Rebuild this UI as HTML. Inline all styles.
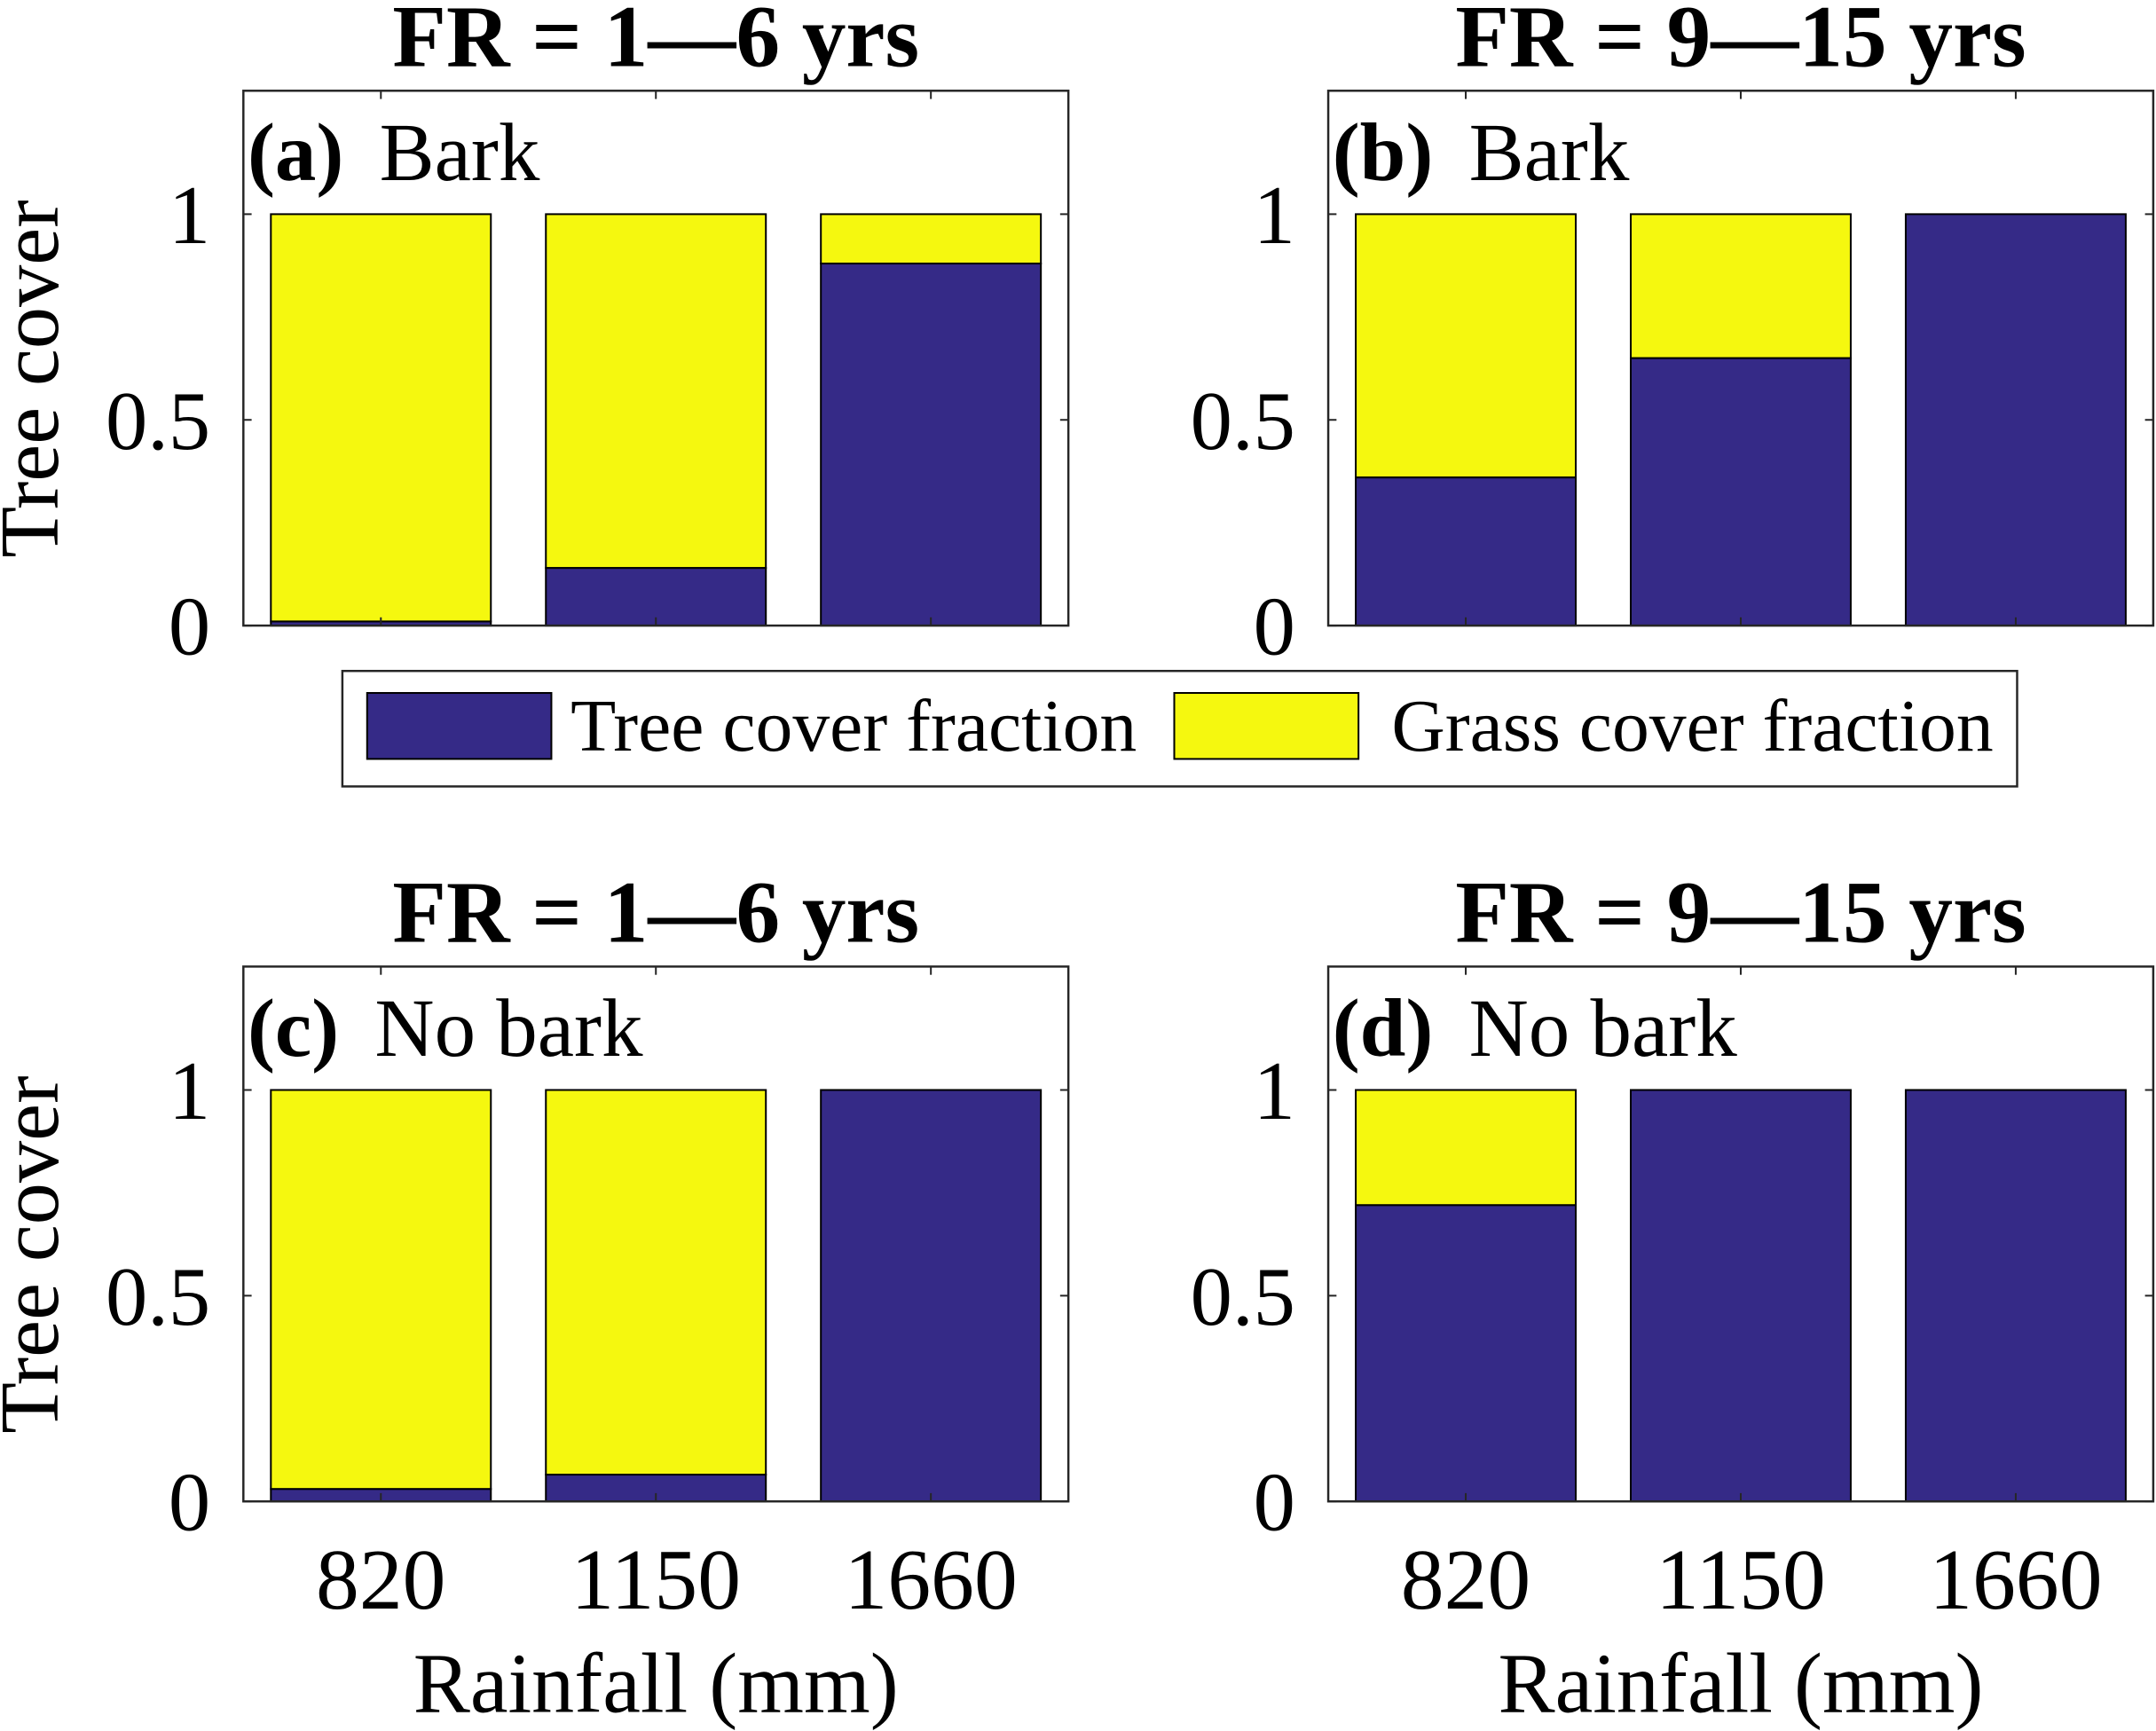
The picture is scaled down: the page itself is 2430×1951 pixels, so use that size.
<!DOCTYPE html>
<html><head><meta charset="utf-8"><style>html,body{margin:0;padding:0;background:#fff}svg{display:block}text{font-family:"Liberation Serif",serif;fill:#000}</style></head>
<body>
<svg id="fig" width="2430" height="1951" viewBox="0 0 1568 1259" preserveAspectRatio="none" xmlns="http://www.w3.org/2000/svg"></svg>
<script>
const categories = ["820","1150","1660"];
const treeA = [0.01, 0.14, 0.88];
const treeB = [0.36, 0.65, 1.0];
const treeC = [0.03, 0.065, 1.0];
const treeD = [0.72, 1.0, 1.0];
const yTicks = [0, 0.5, 1];
const yTickLabels = ["0","0.5","1"];
const titles = ["FR = 1\u20146 yrs","FR = 9\u201415 yrs","FR = 1\u20146 yrs","FR = 9\u201415 yrs"];
const panelTags = ["(a)","(b)","(c)","(d)"];
const panelDesc = ["Bark","Bark","No bark","No bark"];

const NS="http://www.w3.org/2000/svg";
const svg=document.getElementById('fig');
function mk(tag,attrs,parent){const e=document.createElementNS(NS,tag);for(const k in attrs)e.setAttribute(k,attrs[k]);(parent||svg).appendChild(e);return e;}
const NAVY="#352a87", YEL="#f5f80f";
const panels=[{x0:177,y0:66,d:treeA,key:"a"},{x0:966,y0:66,d:treeB,key:"b"},{x0:177,y0:703,d:treeC,key:"c"},{x0:966,y0:703,d:treeD,key:"d"}];
const W=600,H=389,YMAX=1.3;
panels.forEach((p,i)=>{
  const g=mk('g',{});
  
  
  const xs=v=>p.x0+(v+0.5)/3*W;
  const ys=v=>p.y0+H-v/YMAX*H;
  const bw=0.8/3*W;
  p.d.forEach((v,j)=>{
    const cx=xs(j);
    const gr=mk('rect',{x:cx-bw/2,y:ys(1),width:bw,height:ys(v)-ys(1),fill:YEL,stroke:"#000","stroke-width":1.3},g);
    
    
    const tr=mk('rect',{x:cx-bw/2,y:ys(v),width:bw,height:ys(0)-ys(v),fill:NAVY,stroke:"#000","stroke-width":1.3},g);
    
    
    mk('line',{x1:cx,x2:cx,y1:ys(0),y2:ys(0)-6,stroke:"#262626","stroke-width":1.3},g);
    mk('line',{x1:cx,x2:cx,y1:p.y0,y2:p.y0+6,stroke:"#262626","stroke-width":1.3},g);
    if(i>=2){const t=mk('text',{x:cx,y:1170,"font-size":63,"text-anchor":"middle"},g);t.textContent=categories[j];
      }
  });
  yTicks.forEach((v,k)=>{
    mk('line',{x1:p.x0,x2:p.x0+6,y1:ys(v),y2:ys(v),stroke:"#262626","stroke-width":1.3},g);
    mk('line',{x1:p.x0+W,x2:p.x0+W-6,y1:ys(v),y2:ys(v),stroke:"#262626","stroke-width":1.3},g);
    const t=mk('text',{x:p.x0-24,y:ys(v)+21,"font-size":61,"text-anchor":"end"},g);t.textContent=yTickLabels[k];
    
  });
  const box=mk('rect',{x:p.x0,y:p.y0,width:W,height:H,fill:"none",stroke:"#262626","stroke-width":1.6},g);
  
  const tt=mk('text',{x:p.x0+W/2,y:p.y0-18,"font-size":64,"font-weight":"bold","text-anchor":"middle"},g);tt.textContent=titles[i];
  
  const lb=mk('text',{x:p.x0+3,y:p.y0+65,"font-size":60},g);
  const s1=mk('tspan',{"font-weight":"bold"},lb);s1.textContent=panelTags[i];
  const s2=mk('tspan',{dx:26},lb);s2.textContent=panelDesc[i];
  
  if(p.x0<500){const yl=mk('text',{x:0,y:0,"font-size":61,"text-anchor":"middle",transform:`translate(42,${p.y0+H/2+15}) rotate(-90)`},g);yl.textContent="Tree cover";
    }
  if(i>=2){const xl=mk('text',{x:p.x0+W/2,y:1245,"font-size":62,"text-anchor":"middle"},g);xl.textContent="Rainfall (mm)";
    }
});
const lg=mk('g',{});

mk('rect',{x:249,y:488,width:1218,height:84,fill:"#fff",stroke:"#262626","stroke-width":1.6},lg);
const e1=mk('rect',{x:267,y:504,width:134,height:48,fill:NAVY,stroke:"#000","stroke-width":1.3},lg);

const t1=mk('text',{x:415,y:546,"font-size":54},lg);t1.textContent="Tree cover fraction";
const e2=mk('rect',{x:854,y:504,width:134,height:48,fill:YEL,stroke:"#000","stroke-width":1.3},lg);

const t2=mk('text',{x:1012,y:546,"font-size":54},lg);t2.textContent="Grass cover fraction";
</script>
</body></html>
